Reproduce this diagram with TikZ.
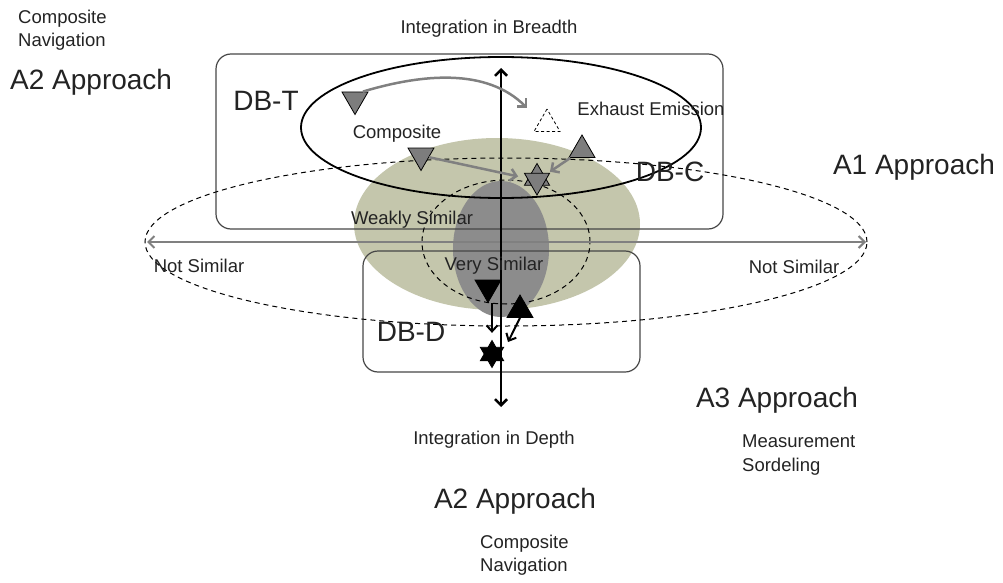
\documentclass[tikz,border=0pt]{standalone}
\usepackage{fontspec}
\setmainfont{Liberation Sans}
\usetikzlibrary{arrows.meta,shapes.geometric,positioning}
\definecolor{weakgreen}{RGB}{196,198,172}
\definecolor{verygray}{RGB}{140,140,140}
\definecolor{trigray}{RGB}{125,125,125}
\definecolor{arrowgray}{RGB}{128,128,128}
\definecolor{boxgray}{RGB}{70,70,70}
\definecolor{textgray}{RGB}{35,35,35}
\tikzset{bigtext/.style={font=\fontsize{28}{32}\selectfont,text=textgray,inner sep=0},
    smalltext/.style={font=\fontsize{18.5}{23.5}\selectfont,text=textgray,inner sep=0},
    twolines/.style={smalltext,align=left,anchor=west},
    dbbox/.style={draw=boxgray,line width=1.2pt,rounded corners=15pt},
    dashedrange/.style={draw=black,line width=1pt,dash pattern=on 5pt off 4pt},
    tridown/.style={regular polygon,regular polygon sides=3,shape border rotate=180,
        minimum size=30pt,inner sep=0,draw=black,line width=0.8pt},
    triup/.style={regular polygon,regular polygon sides=3,
        minimum size=30pt,inner sep=0,draw=black,line width=0.8pt},
    grayarrow/.style={draw=arrowgray,line width=2.5pt,-{Straight Barb[length=6pt,width=12pt]}},
    blackarrow/.style={draw=black,line width=2pt,-{Straight Barb[length=6pt,width=11pt]}},
    grayaxis/.style={draw=arrowgray,line width=2pt,{Straight Barb[length=6pt,width=12pt]}-{Straight Barb[length=6pt,width=12pt]}},
    blackaxis/.style={draw=black,line width=2.5pt,{Straight Barb[length=6pt,width=12pt]}-{Straight Barb[length=6pt,width=12pt]}}
}
\begin{document}
\begin{tikzpicture}[x=1pt,y=-1pt]
\useasboundingbox (0,0) rectangle (1003,583);

% similarity regions
\fill[weakgreen] (497,224) ellipse [x radius=143pt,y radius=86pt];
\fill[verygray] (501,249) ellipse [x radius=48pt,y radius=68pt];

% database boxes
\draw[dbbox] (216,54) rectangle (723,229);
\draw[dbbox] (363,251) rectangle (640,372);

% ranges
\draw[dashedrange] (506,242) ellipse [x radius=361pt,y radius=84pt];
\draw[dashedrange] (506,242) ellipse [x radius=84pt,y radius=62pt];
\draw[line width=1.8pt] (501,127.5) ellipse [x radius=200pt,y radius=70.5pt];

% axes
\coordinate (breadth) at (501,68);
\coordinate (depth) at (501,407);
\coordinate (notsimleft) at (147,242);
\coordinate (notsimright) at (866,242);
\draw[grayaxis] (notsimleft) -- (notsimright);
\draw[blackaxis] (depth) -- (breadth);

% items in DB-T and DB-C
\node (comp) at (355,99.5) [tridown,fill=trigray] {};
\node (exhaust) at (547,124) [triup,fill=white,dash pattern=on 3pt off 2.5pt] {};
\node (comptwo) at (421,155.5) [tridown,fill=trigray] {};
\node (dcitem) at (582,150) [triup,fill=trigray] {};
\node (mergeup) at (537,178) [triup,fill=trigray,minimum size=29pt] {};
\node (mergedown) at (537,180.5) [tridown,fill=trigray,minimum size=29pt] {};

% items in DB-D
\node (ddown) at (488,287.5) [tridown,fill=black] {};
\node (dup) at (520,310) [triup,fill=black] {};
\node (bottomup) at (492,354) [triup,fill=black,minimum size=27pt] {};
\node (bottomdown) at (492,354) [tridown,fill=black,minimum size=27pt] {};

\draw [grayarrow] (comp.north east) .. controls +(60,-18) and +(-40,-40) .. ([xshift=-20pt,yshift=16pt]exhaust.center);
\draw [grayarrow,shorten >=9pt] (comptwo) -- (mergedown);
\draw [grayarrow,shorten >=2pt] (dcitem) -- (mergedown);
\draw [blackarrow] (ddown.south -| bottomdown) -- ([yshift=14pt]bottomdown.north);
\draw [blackarrow] (dup.south) -- ([xshift=16pt,yshift=12pt]bottomup.center);

% labels
\node (compnavtop) at (18,30) [twolines] {Composite\\Navigation};
\node (atwotop) at (10,82) [bigtext,anchor=west] {A2 Approach};
\node (breadthlabel) at (489,29) [smalltext] {Integration in Breadth};
\node (dbt) at (266,101) [bigtext] {DB-T};
\node (dbc) at (670,172) [bigtext] {DB-C};
\node (dbd) at (411,332) [bigtext] {DB-D};
\node (complabel) at (397,134) [smalltext] {Composite};
\node (exhaustlabel) at (651,109) [smalltext] {Exhaust Emission};
\node (aone) at (914,167) [bigtext] {A1 Approach};
\node (weakly) at (412,220) [smalltext] {Weakly Similar};
\node (very) at (494,266) [smalltext] {Very Similar};
\node (notleft) at (199,266) [smalltext] {Not Similar};
\node (notright) at (794,267) [smalltext] {Not Similar};
\node (athree) at (777,400) [bigtext] {A3 Approach};
\node (measure) at (742,455) [twolines] {Measurement\\Sordeling};
\node (depthlabel) at (494,440) [smalltext] {Integration in Depth};
\node (atwobottom) at (515,501) [bigtext] {A2 Approach};
\node (compnavbottom) at (480,555) [twolines] {Composite\\Navigation};

\end{tikzpicture}
\end{document}
